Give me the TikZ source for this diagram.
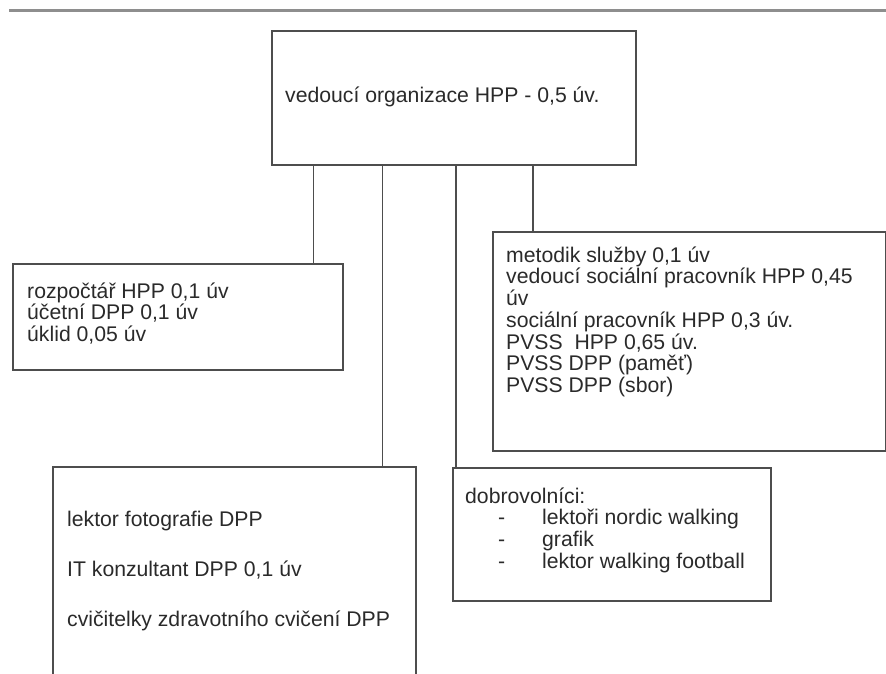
\documentclass[tikz,border=0pt]{standalone}
\usepackage{fontspec}
\setmainfont{Liberation Sans}
\usepackage{xcolor}
\usepackage{tikz}
\usetikzlibrary{positioning}

\definecolor{boxgray}{HTML}{4D4D4D}
\definecolor{rulegray}{HTML}{8E8E8E}
\definecolor{txtgray}{HTML}{2A2A2A}
\newcommand{\fl}{\rule{0pt}{20pt}}

\begin{document}
\begin{tikzpicture}[x=1pt, y=-1pt,
  orgbox/.style={rectangle, draw=boxgray, line width=1.6pt, anchor=north west,
                 inner sep=0pt},
  label/.style={anchor=north west, align=left, inner sep=0pt, text=txtgray,
                font=\fontsize{21.2pt}{21.7pt}\selectfont},
  link/.style={draw=boxgray, line width=1.4pt}
]
\useasboundingbox (0,0) rectangle (886,673);
\clip (0,0) rectangle (886,673);

\draw[rulegray, line width=3pt] (9,10) -- (886,10);

\node[orgbox, minimum width=364pt, minimum height=134pt] (vd) at (271,30) {};
\node[orgbox, minimum width=330pt, minimum height=106pt] (rz) at (12,263) {};
\node[orgbox, minimum width=393pt, minimum height=219pt] (mt) at (492,231) {};
\node[orgbox, minimum width=363pt, minimum height=240pt] (lk) at (52,466) {};
\node[orgbox, minimum width=318pt, minimum height=133pt] (db) at (452,467) {};

\node[label] (vdt) at (285,82) {\fl vedoucí organizace HPP - 0,5 úv.};
\node[label] (rzt) at (27,278) {\fl rozpočtář HPP 0,1 úv\\účetní DPP 0,1 úv\\úklid 0,05 úv};
\node[label] (mtt) at (506,242) {\fl metodik služby 0,1 úv\\vedoucí sociální pracovník HPP 0,45\\úv\\sociální pracovník HPP 0,3 úv.\\PVSS\ \ HPP 0,65 úv.\\PVSS DPP (paměť)\\PVSS DPP (sbor)};
\node[label] (lkt) at (67,506) {\fl lektor fotografie DPP\\[28.3pt]IT konzultant DPP 0,1 úv\\[28.3pt]cvičitelky zdravotního cvičení DPP};
\node[label] (dbt) at (465,483) {\fl dobrovolníci:\\
  \hspace*{33pt}\makebox[44pt][l]{-}lektoři nordic walking\\
  \hspace*{33pt}\makebox[44pt][l]{-}grafik\\
  \hspace*{33pt}\makebox[44pt][l]{-}lektor walking football};

\draw[link] ([xshift=-30pt]rz.north east) -- ([xshift=-30pt]rz.north east |- vd.south);
\draw[link] ([xshift=-34pt]lk.north east) -- ([xshift=-34pt]lk.north east |- vd.south);
\draw[link] ([xshift=4pt]db.north west) -- ([xshift=4pt]db.north west |- vd.south);
\draw[link] ([xshift=41pt]mt.north west) -- ([xshift=41pt]mt.north west |- vd.south);
\end{tikzpicture}
\end{document}
